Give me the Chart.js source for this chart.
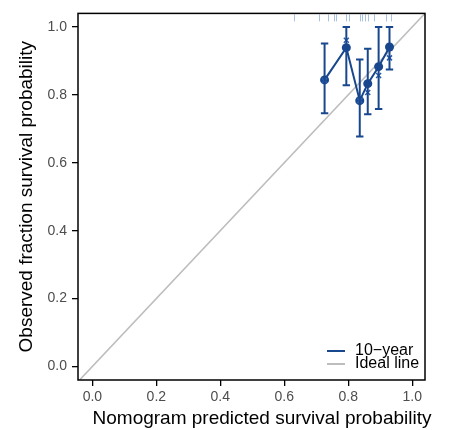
<!DOCTYPE html>
<html><head><meta charset="utf-8">
<script src="https://cdn.jsdelivr.net/npm/chart.js@4/dist/chart.umd.min.js"></script>
<style>html,body{margin:0;padding:0;background:#fff}#wrap{width:449px;height:430px}</style>
</head><body><div id="wrap"><canvas id="c" width="449" height="430"></canvas></div>
<script>
// ---- data ----
const predicted = [0.726, 0.794, 0.836, 0.861, 0.895, 0.929];
const observed  = [0.844, 0.939, 0.783, 0.833, 0.883, 0.941];
const lowerCI   = [0.746, 0.828, 0.677, 0.743, 0.758, 0.875];
const upperCI   = [0.951, 1.000, 0.904, 0.936, 1.000, 1.000];
const corrected = [0.842, 0.961, 0.783, 0.807, 0.857, 0.909];
const rugValues = [0.630, 0.708, 0.737, 0.755, 0.763, 0.792, 0.802, 0.836, 0.843, 0.851, 0.861, 0.880, 0.917, 0.934];
const tickValues = [0.0, 0.2, 0.4, 0.6, 0.8, 1.0];
const idealRange = [-0.1, 1.1];
const seriesLabel = '10\u2212year';
const idealLabel = 'Ideal line';
const xTitle = 'Nomogram predicted survival probability';
const yTitle = 'Observed fraction survival probability';

const FONT = '"Liberation Sans", Arial, sans-serif';
const BLUE = '#18478e';
const GREY = '#bdbdbd';

const framePlugin = {
  id: 'frame',
  afterDatasetsDraw(chart) {
    const {ctx, chartArea: a, scales: {x, y}} = chart;
    ctx.save();
    // error bars
    ctx.strokeStyle = BLUE; ctx.lineWidth = 2;
    predicted.forEach((p, i) => {
      const px = x.getPixelForValue(p);
      const y1 = y.getPixelForValue(lowerCI[i]);
      const y2 = y.getPixelForValue(upperCI[i]);
      ctx.beginPath();
      ctx.moveTo(px, y1); ctx.lineTo(px, y2);
      ctx.moveTo(px - 3.7, y1); ctx.lineTo(px + 3.7, y1);
      ctx.moveTo(px - 3.7, y2); ctx.lineTo(px + 3.7, y2);
      ctx.stroke();
    });
    // rug
    ctx.strokeStyle = '#a8c0e2'; ctx.lineWidth = 1;
    rugValues.forEach(v => {
      const px = Math.round(x.getPixelForValue(v)) + 0.5;
      ctx.beginPath(); ctx.moveTo(px, a.top + 1); ctx.lineTo(px, a.top + 8); ctx.stroke();
    });
    // legend
    const items = [[seriesLabel, BLUE, 351], [idealLabel, GREY, 364]];
    ctx.font = '16px ' + FONT; ctx.textBaseline = 'middle'; ctx.textAlign = 'left';
    items.forEach(([t, c, yy]) => {
      ctx.strokeStyle = c; ctx.lineWidth = 2;
      ctx.beginPath(); ctx.moveTo(327, yy); ctx.lineTo(345, yy); ctx.stroke();
      ctx.fillStyle = '#000'; ctx.fillText(t, 355, yy);
    });
    // frame
    ctx.strokeStyle = '#000'; ctx.lineWidth = 1.5;
    ctx.strokeRect(a.left, a.top, a.right - a.left, a.bottom - a.top);
    // x axis title (offset right as in the reference)
    ctx.font = '19px ' + FONT; ctx.textAlign = 'center'; ctx.textBaseline = 'middle';
    ctx.fillStyle = '#000';
    ctx.fillText(xTitle, 262, 419);
    ctx.restore();
  }
};

const axisCommon = (title, titlePad, showTitle) => ({
  type: 'linear',
  afterBuildTicks: s => { s.ticks = tickValues.map(v => ({value: v})); },
  ticks: {callback: v => Number(v).toFixed(1), color: '#4d4d4d', font: {family: FONT, size: 14}, maxRotation: 0, autoSkip: false},
  grid: {display: true, drawOnChartArea: false, drawTicks: true, tickLength: 6, color: '#000', lineWidth: 1.3},
  border: {display: false},
  title: {display: showTitle, text: title, color: '#000', font: {family: FONT, size: 19}, padding: titlePad}
});

const xAxis = axisCommon(xTitle, {top: 0, bottom: 0}, false);
xAxis.min = -0.045; xAxis.max = 1.04; xAxis.ticks.padding = 3;
xAxis.afterFit = s => { s.height = 50; };
const yAxis = axisCommon(yTitle, {top: 15, bottom: 0}, true);
yAxis.min = -0.04; yAxis.max = 1.04; yAxis.ticks.padding = 5;
yAxis.afterFit = s => { s.width = 78; };

new Chart(document.getElementById('c'), {
  type: 'line',
  data: {
    datasets: [
      {label: 'marks', data: predicted.map((p, i) => ({x: p, y: corrected[i]})), showLine: false,
       pointStyle: 'crossRot', pointRadius: 3.5, borderColor: '#2b5fae', borderWidth: 1.6, order: 0},
      {label: seriesLabel, data: predicted.map((p, i) => ({x: p, y: observed[i]})), borderColor: BLUE,
       backgroundColor: BLUE, borderWidth: 2, pointRadius: 4.5, pointBorderWidth: 0, tension: 0, order: 1},
      {label: idealLabel, data: idealRange.map(v => ({x: v, y: v})), borderColor: GREY, borderWidth: 1.6,
       pointRadius: 0, order: 3}
    ]
  },
  options: {
    responsive: false, animation: false, devicePixelRatio: 1,
    layout: {padding: {left: 0, right: 24, top: 10, bottom: 0}},
    scales: {x: xAxis, y: yAxis},
    plugins: {legend: {display: false}, tooltip: {enabled: false}}
  },
  plugins: [framePlugin]
});
</script></body></html>
